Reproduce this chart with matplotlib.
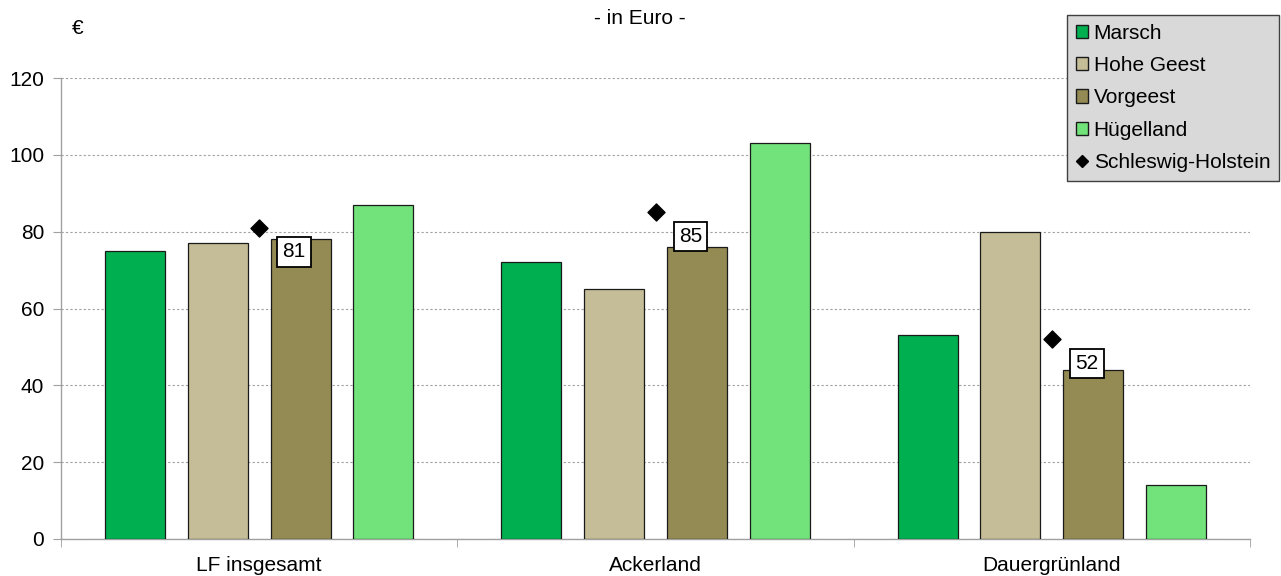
import matplotlib
matplotlib.use("Agg")
import matplotlib.pyplot as plt
import numpy as np
from matplotlib.lines import Line2D
from matplotlib.patches import Patch

plt.rcParams['font.family'] = ['Liberation Sans', 'DejaVu Sans']

categories = ["LF insgesamt", "Ackerland", "Dauergrünland"]
series_names = ["Marsch", "Hohe Geest", "Vorgeest", "Hügelland"]
values = {
    "Marsch": [75, 72, 53],
    "Hohe Geest": [77, 65, 80],
    "Vorgeest": [78, 76, 44],
    "Hügelland": [87, 103, 14],
}
sh_name = "Schleswig-Holstein"
sh_values = [81, 85, 52]
colors = ["#00B050", "#C4BD97", "#948A54", "#72E27A"]
yticks = [0, 20, 40, 60, 80, 100, 120]

FS = 15

fig = plt.figure(figsize=(12.81, 5.76), dpi=100)
ax = fig.add_axes([61/1281, 1-539/576, (1250-61)/1281, (539-78)/576])

x = np.arange(len(categories))
bw = 0.1515
step = 0.209
offsets = (np.arange(4) - 1.5) * step
for i, name in enumerate(series_names):
    ax.bar(x + offsets[i], values[name], width=bw, color=colors[i],
           edgecolor="#1a1a1a", linewidth=0.9, zorder=3)

ax.scatter(x, sh_values, marker="D", s=75, color="black", zorder=5)
for xi, v in zip(x, sh_values):
    ax.annotate(str(v), (xi, v), xytext=(35, -24), textcoords="offset pixels",
                ha="center", va="center", fontsize=FS, zorder=6,
                bbox=dict(boxstyle="square,pad=0.25", fc="white", ec="black", lw=1.3))

ax.set_xlim(-0.5, 2.5)
ax.set_ylim(0, 120)
ax.set_yticks(yticks)
ax.set_yticklabels([str(t) for t in yticks], fontsize=FS)
ax.yaxis.grid(True, linestyle=(0, (2, 2)), color="#a0a0a0", linewidth=0.8, zorder=0)
ax.set_axisbelow(True)

ax.set_xticks(x)
ax.set_xticklabels(categories, fontsize=FS)
ax.tick_params(axis="x", length=0, pad=12)
ax.set_xticks([-0.5, 0.5, 1.5, 2.5], minor=True)
ax.tick_params(axis="x", which="minor", length=6, color="#a0a0a0", direction="out")
ax.tick_params(axis="y", length=6, color="#a0a0a0", pad=6)

for s in ["top", "right"]:
    ax.spines[s].set_visible(False)
for s in ["left", "bottom"]:
    ax.spines[s].set_color("#a0a0a0")
    ax.spines[s].set_linewidth(1.0)

fig.text(640/1281, 1-19/576, "- in Euro -", ha="center", va="center", fontsize=FS)
fig.text(78/1281, 1-28/576, "€", ha="center", va="center", fontsize=FS)

handles = [Patch(facecolor=c, edgecolor="#1a1a1a", label=n) for c, n in zip(colors, series_names)]
handles.append(Line2D([], [], marker="D", color="black", linestyle="none", markersize=6, label=sh_name))
leg = fig.legend(handles=handles, loc="upper right", bbox_to_anchor=(1279/1281, 1-15/576),
                 fontsize=FS, frameon=True, fancybox=False, handlelength=0.6, handleheight=0.6,
                 handletextpad=0.25, labelspacing=0.64, borderpad=0.42, borderaxespad=0)
leg.get_frame().set_facecolor("#d9d9d9")
leg.get_frame().set_edgecolor("#404040")
leg.get_frame().set_linewidth(1.0)
leg.get_frame().set_alpha(1)

fig.savefig("out.png", dpi=100)
